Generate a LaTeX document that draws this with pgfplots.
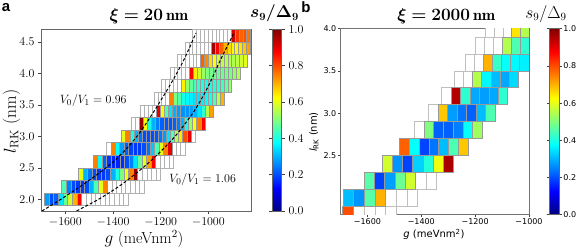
\documentclass[border=0pt]{standalone}
\usepackage{amsmath}
\usepackage{bm}
\usepackage{fontspec}
\usepackage{pgfplots}
\pgfplotsset{compat=1.18}
\usepackage{pgfplotstable}
\newfontfamily\dv{DejaVu Sans}
\newfontfamily\lsans{Liberation Sans}

\pgfdeclareplotmark{cellA}{%
  \pgfpathrectanglecorners{\pgfpoint{-\cellhw pt}{-6.3pt}}{\pgfpoint{\cellhw pt}{6.3pt}}%
  \pgfusepathqfillstroke}
\pgfdeclareplotmark{cellB}{%
  \pgfpathrectanglecorners{\pgfpoint{-\cellhw pt}{-8.45pt}}{\pgfpoint{\cellhw pt}{8.45pt}}%
  \pgfusepathqfillstroke}

% panel a: coloured cells (x centre, l_RK, cell width, s9/Delta9)
\pgfplotstableread{
x y w c
-895.5 4.6 16.2 0.92
-879.3 4.6 16.2 0.82
-863.1 4.6 16.2 0.78
-846.9 4.6 16.2 0.80
-830.7 4.6 16.2 0.76
-977.5 4.4 16.05 0.97
-961.5 4.4 16.05 0.88
-945.4 4.4 16.05 0.78
-929.4 4.4 16.05 0.70
-913.3 4.4 16.05 0.66
-897.3 4.4 16.05 0.63
-881.2 4.4 16.05 0.63
-865.2 4.4 16.05 0.65
-849.1 4.4 16.05 0.68
-833.1 4.4 16.05 0.72
-817.0 4.4 16.05 0.74
-1024.1 4.2 16.32 0.78
-1007.8 4.2 16.32 0.74
-991.4 4.2 16.32 0.66
-975.1 4.2 16.32 0.62
-958.8 4.2 16.32 0.58
-942.5 4.2 16.32 0.56
-926.2 4.2 16.32 0.55
-909.8 4.2 16.32 0.55
-893.5 4.2 16.32 0.55
-877.2 4.2 16.32 0.56
-860.9 4.2 16.32 0.58
-844.6 4.2 16.32 0.60
-1071.0 4.0 16.32 0.88
-1054.7 4.0 16.32 0.64
-1038.4 4.0 16.32 0.58
-1022.1 4.0 16.32 0.53
-1005.7 4.0 16.32 0.50
-989.4 4.0 16.32 0.49
-973.1 4.0 16.32 0.48
-956.8 4.0 16.32 0.48
-940.5 4.0 16.32 0.48
-924.1 4.0 16.32 0.49
-907.8 4.0 16.32 0.50
-891.5 4.0 16.32 0.52
-875.2 4.0 16.32 0.55
-1105.9 3.8 16.32 0.64
-1089.6 3.8 16.32 0.52
-1073.3 3.8 16.32 0.47
-1057.0 3.8 16.32 0.44
-1040.7 3.8 16.32 0.42
-1024.3 3.8 16.32 0.41
-1008.0 3.8 16.32 0.40
-991.7 3.8 16.32 0.40
-975.4 3.8 16.32 0.41
-959.1 3.8 16.32 0.42
-942.7 3.8 16.32 0.44
-926.4 3.8 16.32 0.47
-910.1 3.8 16.32 0.52
-1154.6 3.6 16.32 0.75
-1138.2 3.6 16.32 0.50
-1121.9 3.6 16.32 0.45
-1105.6 3.6 16.32 0.40
-1089.3 3.6 16.32 0.37
-1073.0 3.6 16.32 0.36
-1056.6 3.6 16.32 0.35
-1040.3 3.6 16.32 0.35
-1024.0 3.6 16.32 0.36
-1007.7 3.6 16.32 0.38
-991.4 3.6 16.32 0.40
-975.0 3.6 16.32 0.45
-958.7 3.6 16.32 0.55
-942.4 3.6 16.32 0.70
-1209.8 3.4 17.08 0.90
-1192.7 3.4 17.08 0.62
-1175.7 3.4 17.08 0.45
-1158.6 3.4 17.08 0.35
-1141.5 3.4 17.08 0.30
-1124.4 3.4 17.08 0.28
-1107.3 3.4 17.08 0.27
-1090.2 3.4 17.08 0.27
-1073.2 3.4 17.08 0.28
-1056.1 3.4 17.08 0.30
-1039.0 3.4 17.08 0.35
-1021.9 3.4 17.08 0.42
-1004.8 3.4 17.08 0.55
-987.7 3.4 17.08 0.72
-1281.4 3.2 17.25 0.97
-1264.1 3.2 17.25 0.62
-1246.9 3.2 17.25 0.40
-1229.6 3.2 17.25 0.30
-1212.4 3.2 17.25 0.25
-1195.1 3.2 17.25 0.22
-1177.9 3.2 17.25 0.21
-1160.6 3.2 17.25 0.21
-1143.4 3.2 17.25 0.22
-1126.1 3.2 17.25 0.25
-1108.9 3.2 17.25 0.30
-1091.6 3.2 17.25 0.40
-1074.4 3.2 17.25 0.52
-1057.1 3.2 17.25 0.63
-1039.9 3.2 17.25 0.75
-1022.6 3.2 17.25 0.88
-1355.0 3.0 17.08 0.60
-1337.9 3.0 17.08 0.75
-1320.8 3.0 17.08 0.40
-1303.7 3.0 17.08 0.30
-1286.6 3.0 17.08 0.24
-1269.5 3.0 17.08 0.20
-1252.5 3.0 17.08 0.20
-1235.4 3.0 17.08 0.20
-1218.3 3.0 17.08 0.21
-1201.2 3.0 17.08 0.24
-1184.1 3.0 17.08 0.28
-1167.0 3.0 17.08 0.35
-1150.0 3.0 17.08 0.45
-1132.9 3.0 17.08 0.55
-1115.8 3.0 17.08 0.65
-1098.7 3.0 17.08 0.80
-1081.6 3.0 17.08 0.90
-1399.0 2.8 18.25 0.75
-1380.8 2.8 18.25 0.38
-1362.5 2.8 18.25 0.28
-1344.3 2.8 18.25 0.22
-1326.0 2.8 18.25 0.19
-1307.8 2.8 18.25 0.18
-1289.6 2.8 18.25 0.18
-1271.3 2.8 18.25 0.20
-1253.1 2.8 18.25 0.24
-1234.8 2.8 18.25 0.32
-1216.6 2.8 18.25 0.45
-1198.3 2.8 18.25 0.60
-1180.1 2.8 18.25 0.75
-1161.8 2.8 18.25 0.90
-1473.4 2.6 18.65 0.75
-1454.7 2.6 18.65 0.38
-1436.1 2.6 18.65 0.22
-1417.4 2.6 18.65 0.18
-1398.8 2.6 18.65 0.16
-1380.1 2.6 18.65 0.16
-1361.5 2.6 18.65 0.17
-1342.8 2.6 18.65 0.20
-1324.2 2.6 18.65 0.25
-1305.5 2.6 18.65 0.35
-1286.9 2.6 18.65 0.48
-1268.2 2.6 18.65 0.60
-1249.6 2.6 18.65 0.72
-1230.9 2.6 18.65 0.88
-1536.0 2.4 19.2 0.60
-1516.8 2.4 19.2 0.30
-1497.6 2.4 19.2 0.24
-1478.4 2.4 19.2 0.20
-1459.2 2.4 19.2 0.18
-1440.0 2.4 19.2 0.18
-1420.8 2.4 19.2 0.20
-1401.6 2.4 19.2 0.30
-1382.4 2.4 19.2 0.40
-1363.2 2.4 19.2 0.50
-1344.0 2.4 19.2 0.62
-1324.8 2.4 19.2 0.75
-1305.6 2.4 19.2 0.98
-1605.6 2.2 19.18 0.45
-1586.4 2.2 19.18 0.25
-1567.3 2.2 19.18 0.20
-1548.1 2.2 19.18 0.18
-1528.9 2.2 19.18 0.18
-1509.7 2.2 19.18 0.20
-1490.5 2.2 19.18 0.30
-1471.4 2.2 19.18 0.45
-1452.2 2.2 19.18 0.60
-1433.0 2.2 19.18 0.75
-1678.5 2.0 19.58 0.28
-1658.9 2.0 19.58 0.20
-1639.4 2.0 19.58 0.22
-1619.8 2.0 19.58 0.35
-1600.2 2.0 19.58 0.48
-1580.6 2.0 19.58 0.58
-1561.0 2.0 19.58 0.70
-1541.5 2.0 19.58 0.88
-1704.1 1.8 20.1 0.60
-1684.0 1.8 20.1 0.82
}\colA

% panel a: empty cells
\pgfplotstableread{
x y w
-1057.5 4.6 16.2
-1041.3 4.6 16.2
-1025.1 4.6 16.2
-1008.9 4.6 16.2
-992.7 4.6 16.2
-976.5 4.6 16.2
-960.3 4.6 16.2
-944.1 4.6 16.2
-927.9 4.6 16.2
-911.7 4.6 16.2
-1089.9 4.4 16.05
-1073.8 4.4 16.05
-1057.8 4.4 16.05
-1041.7 4.4 16.05
-1025.7 4.4 16.05
-1009.6 4.4 16.05
-993.6 4.4 16.05
-1122.0 4.2 16.32
-1105.7 4.2 16.32
-1089.4 4.2 16.32
-1073.0 4.2 16.32
-1056.7 4.2 16.32
-1040.4 4.2 16.32
-1152.6 4.0 16.32
-1136.3 4.0 16.32
-1120.0 4.0 16.32
-1103.7 4.0 16.32
-1087.3 4.0 16.32
-1187.5 3.8 16.32
-1171.2 3.8 16.32
-1154.9 3.8 16.32
-1138.6 3.8 16.32
-1122.3 3.8 16.32
-1219.8 3.6 16.32
-1203.5 3.6 16.32
-1187.2 3.6 16.32
-1170.9 3.6 16.32
-1278.2 3.4 17.08
-1261.1 3.4 17.08
-1244.0 3.4 17.08
-1226.9 3.4 17.08
-1315.9 3.2 17.25
-1298.6 3.2 17.25
-1064.5 3.0 17.08
-1417.3 2.8 18.25
-1143.6 2.8 18.25
-1125.3 2.8 18.25
-1107.1 2.8 18.25
-1212.3 2.6 18.65
-1193.6 2.6 18.65
-1175.0 2.6 18.65
-1156.3 2.6 18.65
-1286.4 2.4 19.2
-1267.2 2.4 19.2
-1248.0 2.4 19.2
-1228.8 2.4 19.2
-1209.6 2.4 19.2
-1413.8 2.2 19.18
-1394.6 2.2 19.18
-1375.5 2.2 19.18
-1356.3 2.2 19.18
-1337.1 2.2 19.18
-1317.9 2.2 19.18
-1298.7 2.2 19.18
-1279.6 2.2 19.18
-1521.9 2.0 19.58
-1502.3 2.0 19.58
-1482.7 2.0 19.58
-1463.1 2.0 19.58
-1443.6 2.0 19.58
-1424.0 2.0 19.58
-1404.4 2.0 19.58
-1384.8 2.0 19.58
-1365.2 2.0 19.58
-1345.6 2.0 19.58
-1663.9 1.8 20.1
-1643.8 1.8 20.1
-1623.7 1.8 20.1
-1603.6 1.8 20.1
-1583.5 1.8 20.1
-1563.4 1.8 20.1
-1543.3 1.8 20.1
-1523.2 1.8 20.1
-1503.1 1.8 20.1
-1483.0 1.8 20.1
-1462.9 1.8 20.1
-1442.8 1.8 20.1
-1422.7 1.8 20.1
}\whiteA

% panel b: coloured cells
\pgfplotstableread{
x y w c
-1048 4.0 32.2 0.65
-1016 4.0 32.2 0.55
-1082.5 3.8 33 0.55
-1049.5 3.8 33 0.45
-1016.5 3.8 33 0.42
-1153 3.6 34 0.70
-1119 3.6 34 0.43
-1085 3.6 34 0.38
-1051 3.6 34 0.37
-1017 3.6 34 0.36
-1192.3 3.4 34.3 0.55
-1158 3.4 34.3 0.37
-1123.7 3.4 34.3 0.31
-1089.4 3.4 34.3 0.29
-1055 3.4 34.3 0.34
-1271 3.2 34.9 0.95
-1236 3.2 34.9 0.42
-1201 3.2 34.9 0.29
-1166 3.2 34.9 0.28
-1131 3.2 34.9 0.29
-1096 3.2 34.9 0.42
-1319.9 3.0 35.4 0.68
-1284.5 3.0 35.4 0.28
-1249.1 3.0 35.4 0.24
-1213.7 3.0 35.4 0.22
-1178.3 3.0 35.4 0.31
-1142.9 3.0 35.4 0.45
-1371.9 2.8 36.3 0.50
-1335.6 2.8 36.3 0.22
-1299.3 2.8 36.3 0.22
-1263 2.8 36.3 0.25
-1226.7 2.8 36.3 0.38
-1190.4 2.8 36.3 0.53
-1463.6 2.6 36.9 0.78
-1426.7 2.6 36.9 0.38
-1389.9 2.6 36.9 0.19
-1353 2.6 36.9 0.24
-1316.2 2.6 36.9 0.31
-1279.3 2.6 36.9 0.45
-1242.5 2.6 36.9 0.68
-1525.2 2.4 37.6 0.58
-1487.6 2.4 37.6 0.27
-1450 2.4 37.6 0.19
-1412.4 2.4 37.6 0.33
-1374.8 2.4 37.6 0.41
-1337.2 2.4 37.6 0.61
-1299.6 2.4 37.6 0.96
-1592.8 2.2 38.4 0.46
-1554.4 2.2 38.4 0.19
-1516 2.2 38.4 0.28
-1477.6 2.2 38.4 0.48
-1439.2 2.2 38.4 0.58
-1670.5 2.0 39.6 0.31
-1630.9 2.0 39.6 0.27
-1591.3 2.0 39.6 0.46
-1551.7 2.0 39.6 0.70
-1712 1.8 40.2 0.47
-1672 1.8 40.2 0.80
}\colB

% panel b: empty cells
\pgfplotstableread{
x y w
-1144 4.0 32.2
-1112 4.0 32.2
-1080 4.0 32.2
-1181.5 3.8 33
-1148.5 3.8 33
-1115.5 3.8 33
-1221 3.6 34
-1187 3.6 34
-1261 3.4 34.3
-1226.6 3.4 34.3
-1306 3.2 34.9
-1355.3 3.0 35.4
-1408.2 2.8 36.3
-1400.8 2.2 38.4
-1362.4 2.2 38.4
-1512.1 2.0 39.6
-1472.5 2.0 39.6
-1432.9 2.0 39.6
-1632 1.8 40.2
-1592 1.8 40.2
-1552 1.8 40.2
-1512 1.8 40.2
}\whiteB

\begin{document}
\begin{tikzpicture}
\path[use as bounding box] (0pt,0pt) rectangle (582pt,249pt);

% ---------------- panel a ----------------
\begin{axis}[
  at={(41.5pt,38pt)}, anchor=south west, scale only axis,
  width=209.5pt, height=181.6pt,
  xmin=-1700, xmax=-821, ymin=1.817, ymax=4.7,
  xtick={-1600,-1400,-1200,-1000}, ytick={2,2.5,3,3.5,4,4.5},
  /pgf/number format/1000 sep={},
  yticklabel style={/pgf/number format/fixed, /pgf/number format/fixed zerofill, /pgf/number format/precision=1},
  ticklabel style={font=\fontsize{12.5}{14}\selectfont},
  tick align=outside, tick pos=left, major tick length=3.5pt,
  tick style={black!75, line width=0.6pt},
  axis line style={black!60, line width=0.8pt},
  clip marker paths=true,
  colormap/jet, point meta min=0, point meta max=1,
  colorbar,
  colorbar style={at={(parent axis.north east)}, anchor=north west, xshift=13.3pt,
    scale only axis, width=8.7pt, height=181.6pt,
    ytick={0,0.2,0.4,0.6,0.8,1},
    yticklabel style={/pgf/number format/fixed, /pgf/number format/fixed zerofill, /pgf/number format/precision=1, font=\fontsize{12.5}{14}\selectfont},
    tick align=outside, major tick length=3.5pt,
    tick style={black!75, line width=0.6pt},
    axis line style={black!60, line width=0.8pt}},
]
\addplot[scatter, only marks, mark=cellA, point meta=\thisrow{y},
  visualization depends on={\thisrow{w}*0.11917 \as \cellhw},
  scatter/use mapped color={draw=black!30, fill=white},
  mark options={line width=0.6pt}] table[x=x,y=y] {\whiteA};
\addplot[scatter, only marks, mark=cellA, point meta=explicit,
  visualization depends on={\thisrow{w}*0.11917 \as \cellhw},
  scatter/use mapped color={draw=black!40, fill=mapped color},
  mark options={line width=0.6pt}] table[x=x,y=y,meta=c] {\colA};
\addplot[black, line width=1pt, dash pattern=on 3pt off 2pt, smooth] coordinates {
  (-1698,1.817) (-1620,2.0) (-1540,2.2) (-1465,2.4) (-1398,2.6) (-1345,2.8)
  (-1300,3.0) (-1262,3.2) (-1228,3.4) (-1195,3.6) (-1163,3.8) (-1133,4.0)
  (-1105,4.2) (-1080,4.4) (-1057,4.6) (-1052,4.64)};
\addplot[black, line width=1pt, dash pattern=on 3pt off 2pt, smooth] coordinates {
  (-1553,1.817) (-1462,2.0) (-1378,2.2) (-1308,2.4) (-1245,2.6) (-1190,2.8)
  (-1140,3.0) (-1098,3.2) (-1060,3.4) (-1028,3.6) (-1000,3.8) (-975,4.0)
  (-951,4.2) (-925,4.4) (-898,4.6) (-893,4.64)};
\end{axis}
\node at (93.3pt,148pt) {\fontsize{12.5}{14}\selectfont $V_0/V_1 = 0.96$};
\node at (202.7pt,69pt) {\fontsize{12.5}{14}\selectfont $V_0/V_1 = 1.06$};
\node at (144pt,10pt) {\fontsize{16}{18}\selectfont $g$ (meVnm$^2$)};
\node[rotate=90] at (11.5pt,127.3pt) {\fontsize{17.5}{19}\selectfont $l_{\mathrm{RK}}$ (nm)};
\node at (149pt,232.5pt) {\fontsize{16}{18}\selectfont $\bm{\xi = 20}\,\mathbf{nm}$};
\node at (274.5pt,235.7pt) {\fontsize{16}{18}\selectfont $\bm{s_9/\Delta_9}$};
\node at (6pt,241.5pt) {\lsans\bfseries\fontsize{15}{15}\selectfont a};

% ---------------- panel b ----------------
\begin{axis}[
  at={(340.5pt,34.3pt)}, anchor=south west, scale only axis,
  width=188.5pt, height=186pt,
  xmin=-1700, xmax=-1000, ymin=1.8, ymax=4.0,
  xtick={-1600,-1400,-1200,-1000}, xticklabels={−1600,−1400,−1200,−1000},
  ytick={2.5,3,3.5,4}, yticklabels={2.5,3.0,3.5,4.0},
  ticklabel style={font=\dv\fontsize{8}{9}\selectfont, inner sep=1.5pt},
  tick align=outside, tick pos=left, major tick length=2.5pt,
  tick style={black!75, line width=0.6pt},
  axis line style={black!55, line width=0.8pt},
  clip marker paths=true,
  colormap/jet, point meta min=0, point meta max=1,
  colorbar,
  colorbar style={at={(parent axis.north east)}, anchor=north west, xshift=11.7pt,
    scale only axis, width=10pt, height=186pt,
    ytick={0,0.2,0.4,0.6,0.8,1}, yticklabels={0.0,0.2,0.4,0.6,0.8,1.0},
    yticklabel style={font=\dv\fontsize{8}{9}\selectfont, inner sep=1.5pt},
    tick align=outside, major tick length=2.5pt,
    tick style={black!75, line width=0.6pt},
    axis line style={black!60, line width=0.8pt}},
]
\addplot[scatter, only marks, mark=cellB, point meta=\thisrow{y},
  visualization depends on={\thisrow{w}*0.134643 \as \cellhw},
  scatter/use mapped color={draw=black!25, fill=white},
  mark options={line width=0.8pt}] table[x=x,y=y] {\whiteB};
\addplot[scatter, only marks, mark=cellB, point meta=explicit,
  visualization depends on={\thisrow{w}*0.134643 \as \cellhw},
  scatter/use mapped color={draw=black!40, fill=mapped color},
  mark options={line width=0.8pt}] table[x=x,y=y,meta=c] {\colB};
\end{axis}
\node at (434pt,14.5pt) {\dv\fontsize{10}{12}\selectfont\textit{g} (meVnm\textsuperscript{2})};
\node[rotate=90] at (314pt,117pt) {\dv\fontsize{10}{12}\selectfont\textit{l}\textsubscript{RK} (nm)};
\node at (446.3pt,233pt) {\fontsize{16}{18}\selectfont $\bm{\xi = 2000}\,\mathbf{nm}$};
\node at (546pt,235pt) {\fontsize{16}{18}\selectfont $s_9/\Delta_9$};
\node at (306pt,241.8pt) {\lsans\bfseries\fontsize{15}{15}\selectfont b};
\end{tikzpicture}
\end{document}
